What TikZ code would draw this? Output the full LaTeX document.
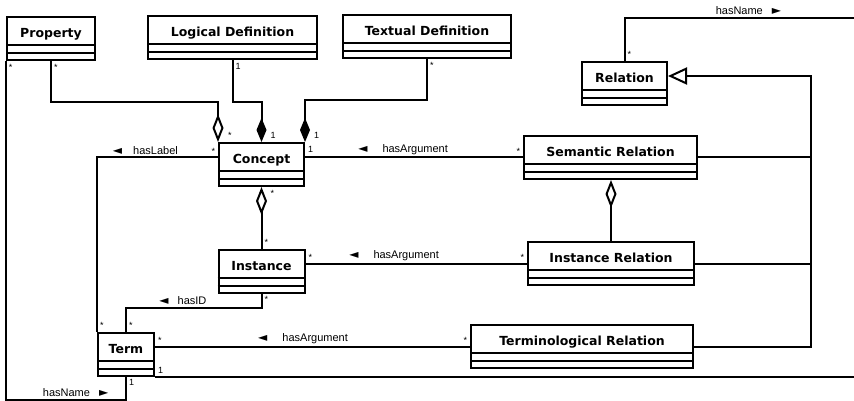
\documentclass[tikz,border=0pt]{standalone}
\usepackage{fontspec}
\setmainfont{DejaVu Sans}
\newfontfamily\labelfont{Liberation Sans}
\usetikzlibrary{arrows.meta}
\usetikzlibrary{positioning}
\newcommand{\leftTri}{{\rmfamily\fontsize{12}{10}\selectfont ◄}}
\newcommand{\rightTri}{{\rmfamily\fontsize{12}{10}\selectfont ►}}
\tikzset{
    klass/.style={
           rectangle,
           draw=black, line width=2pt,
           font=\fontsize{12.5}{14}\selectfont\bfseries,
           inner xsep=0pt, inner ysep=2pt,
           text height=18.5pt, text depth=20.5pt,
           text centered,
           },
    mult/.style={font=\labelfont\fontsize{9}{9}\selectfont, inner sep=2pt},
    lbl/.style={font=\labelfont\fontsize{11}{11}\selectfont, inner sep=2pt},
    aggr/.style={-{Diamond[open,length=28pt,width=11pt]}},
    comp/.style={-{Diamond[length=24pt,width=10pt]}},
    gen/.style={-{Triangle[open,length=19pt,width=17pt]}},
}

\begin{document}
\begin{tikzpicture}[x=1pt,y=-1pt,line width=2pt]
 \useasboundingbox (0,0) rectangle (854,401);

 % Concept in the middle, everything else placed from it
 \node[klass, minimum width=85pt] (Concept) at (261.5,164.5) {Concept};

 \node[klass, minimum width=86pt,
  below of=Concept, node distance=106.5pt] (Instance) {Instance};

 \node[klass, minimum width=56pt,
  below of=Instance, node distance=83pt,
  xshift=-135.5pt] (Term) {Term};

 % top row
 \node[klass, minimum width=88pt,
  above of=Concept, node distance=126pt,
  xshift=-210.5pt] (Property) {Property};

 \node[klass, minimum width=169pt,
  above of=Concept, node distance=127pt,
  xshift=-29pt] (LogDef) {Logical Definition};

 \node[klass, minimum width=168pt,
  right of=LogDef, node distance=194.5pt,
  yshift=1pt] (TextDef) {Textual Definition};

 % relations on the right
 \node[klass, minimum width=173pt,
  right of=Concept, node distance=349pt,
  yshift=7pt] (SemRel) {Semantic Relation};

 \node[klass, minimum width=85pt,
  above of=SemRel, node distance=74pt,
  xshift=14pt] (Relation) {Relation};

 \node[klass, minimum width=166pt,
  right of=Instance, node distance=349.5pt,
  yshift=7.5pt] (InstRel) {Instance Relation};

 \node[klass, minimum width=222pt,
  right of=Term, node distance=456pt,
  yshift=7.5pt] (TermRel) {Terminological Relation};

 % empty compartments of every class
 \foreach \n in {Property,LogDef,TextDef,Relation,Concept,SemRel,Instance,InstRel,Term,TermRel}{
  \draw[line width=2pt] ([yshift=16pt]\n.south west) -- ([yshift=16pt]\n.south east)
        ([yshift=8pt]\n.south west) -- ([yshift=8pt]\n.south east);
 }

 % free ends at the right border and the generalization hub
 \coordinate (rimTop) at (854,18);
 \coordinate (hub) at ([xshift=143pt,yshift=7.5pt]Relation.east);

 % Property -> Term (hasName)
 \draw (Property.south west) node[mult, below right]{*}
  |- ([yshift=-23pt]Term.south) node[lbl, above, pos=0.79]{hasName\hspace{9pt}\rightTri}
  -- (Term.south) node[mult, below right]{1};

 % aggregation / composition into Concept
 \draw[aggr] (Property.south) node[mult, below right]{*}
  -- ++(0,41) -| (Concept.north west) node[mult, above right, xshift=7pt]{*};
 \draw[comp] (LogDef.south) node[mult, below right]{1}
  -- ++(0,42) -| (Concept.north) node[mult, above right, xshift=6pt]{1};
 \draw[comp] (TextDef.south) node[mult, below right]{*}
  -- ++(0,41) -| (Concept.north east) node[mult, above right, xshift=6pt]{1};

 % hasLabel
 \draw ([yshift=7pt]Concept.west) node[mult, above left]{*}
  -| (Term.north west) node[lbl, above, pos=0.3]{\leftTri\hspace{11pt}hasLabel}
  node[mult, above right]{*};

 % hasArgument links
 \draw (Concept.east |- SemRel.west) node[mult, above right, yshift=2pt]{1}
  -- (SemRel.west) node[lbl, above, pos=0.45]{\leftTri\hspace{15pt}hasArgument}
  node[mult, above left]{*};
 \draw (Instance.east |- InstRel.west) node[mult, above right]{*}
  -- (InstRel.west) node[lbl, above, pos=0.4]{\leftTri\hspace{15pt}hasArgument}
  node[mult, above left]{*};
 \draw (Term.east |- TermRel.west) node[mult, above right]{*}
  -- (TermRel.west) node[lbl, above, pos=0.47]{\leftTri\hspace{15pt}hasArgument}
  node[mult, above left]{*};

 % Concept <>- Instance, Semantic Relation <>- Instance Relation
 \draw[aggr] (Instance.north) node[mult, above right]{*}
  -- (Instance.north |- Concept.south) node[mult, below right, xshift=6pt]{*};
 \draw[aggr] (InstRel.north) -- (InstRel.north |- SemRel.south);

 % hasID
 \draw (Instance.south) node[mult, below right]{*}
  -- ++(0,14) -| (Term.north) node[lbl, above, pos=0.29]{\leftTri\hspace{9pt}hasID}
  node[mult, above right]{*};

 % lines leaving the picture on the right
 \draw (Term.south east) node[mult, above right]{1} -- (Term.south east -| rimTop);
 \draw (Relation.north) node[mult, above right]{*}
  |- (rimTop) node[lbl, above, pos=0.77]{hasName\hspace{9pt}\rightTri};

 % generalization to Relation
 \draw[gen] (TermRel.east) -| (hub) -- ([yshift=7.5pt]Relation.east);
 \draw (SemRel.east) -- (SemRel.east -| hub);
 \draw (InstRel.east) -- (InstRel.east -| hub);

\end{tikzpicture}
\end{document}
